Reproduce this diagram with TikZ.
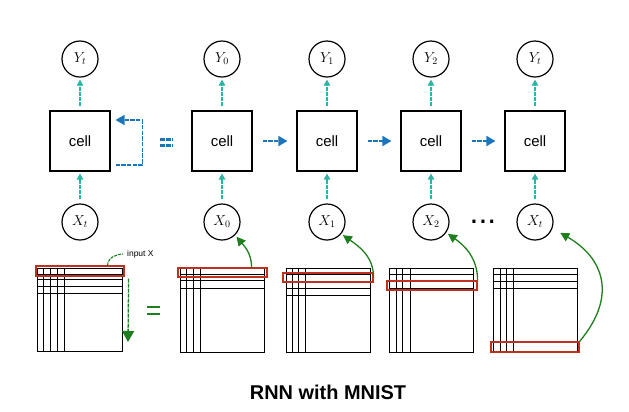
\documentclass[tikz,border=0pt]{standalone}
\usepackage{fontspec}
\newfontfamily\hel{Liberation Sans}
\usetikzlibrary{arrows.meta}
\definecolor{teal1}{HTML}{2AB5A5}
\definecolor{blue1}{HTML}{1B75BB}
\definecolor{green1}{HTML}{1D7F1D}
\definecolor{red1}{HTML}{C0301E}
\begin{document}
\begin{tikzpicture}[x=1bp,y=-1bp,
 cellbox/.style={draw,line width=1.1bp,minimum size=60bp,inner sep=0pt,font=\hel\fontsize{15}{15}\selectfont},
 io/.style={draw,circle,line width=1.2bp,minimum size=36bp,inner sep=0pt,font=\fontsize{14.4}{14.4}\selectfont},
 tarrow/.style={draw=teal1,line width=1.3bp,dash pattern=on 4bp off 1bp,-{Triangle[length=6bp,width=6.5bp,fill=teal1]},shorten <=4bp,shorten >=2bp},
 barrow/.style={blue1,line width=1.6bp,dash pattern=on 4.5bp off 1.2bp,-{Triangle[length=9bp,width=10bp]}},
 garrow/.style={green1,line width=1.3bp,-{Triangle[length=9bp,width=9bp]}},
 eqline/.style={draw=blue1,line width=2.2bp,dash pattern=on 5bp off 1.2bp},
 gridbox/.style={draw,line width=0.8bp,inner sep=0pt},
 gridline/.style={line width=0.7bp},
 redbox/.style={draw=red1,line width=1.2bp,inner sep=0pt},
]
\useasboundingbox (0,0) rectangle (629,411);

% cells and io nodes
\foreach \i/\x/\ys/\xs in {0/80/t/t,1/222/0/0,2/327/1/1,3/431/2/2,4/535/t/t}{
  \node[cellbox] (c\i) at (\x,141) {cell};
  \node[io] (y\i) at (\x,59) {$Y_{\ys}$};
  \node[io] (x\i) at (\x,222) {$X_{\xs}$};
  \draw[tarrow] (x\i) -- (c\i);
  \draw[tarrow] (c\i) -- (y\i);
}
% recurrent links
\foreach \a/\b in {1/2,2/3,3/4}{
  \draw[barrow,shorten <=10bp,shorten >=9bp] (c\a) -- (c\b);
}
\draw[barrow] ([shift={(5,24)}]c0.east) -- ++(27,0) -- ++(0,-45) -- ([shift={(5,-21)}]c0.east);
% blue equals
\draw[eqline] (160,139.5) -- (173,139.5);
\draw[eqline] (160,145.5) -- (173,145.5);

% dots
\node[font=\hel\fontsize{32}{32}\selectfont,inner sep=0pt] (dots) at (483,222) {...};

% grids
\node[gridbox,minimum width=85bp,minimum height=83bp] (g0) at (79.5,309.5) {};
\node[gridbox,minimum width=84bp,minimum height=84bp] (g1) at (222,310) {};
\node[gridbox,minimum width=84bp,minimum height=84bp] (g2) at (328,310) {};
\node[gridbox,minimum width=84bp,minimum height=84bp] (g3) at (431,310) {};
\node[gridbox,minimum width=84bp,minimum height=84bp] (g4) at (535,310) {};
\foreach \g/\vl/\hl in {g0/{7,14,21,28}/{7,12,19,26},g1/{7,14,21}/{7,13,21},g2/{7,13,20}/{7,14,21,28},g3/{8,14,22}/{7,14,21},g4/{8,14,21}/{7,14,21}}{
  \foreach \d in \vl {\draw[gridline] ([xshift=\d bp]\g.north west) -- ([xshift=\d bp]\g.south west);}
  \foreach \d in \hl {\draw[gridline] ([yshift=-\d bp]\g.north west) -- ([yshift=-\d bp]\g.north east);}
}
% red rows
\node[redbox,minimum width=88bp,minimum height=10bp] (r0) at (80,271) {};
\node[redbox,minimum width=89bp,minimum height=9bp] (r1) at (222.5,272.5) {};
\node[redbox,minimum width=90bp,minimum height=9bp] (r2) at (328,277.5) {};
\node[redbox,minimum width=90bp,minimum height=9bp] (r3) at (432,285.5) {};
\node[redbox,minimum width=88bp,minimum height=10bp] (r4) at (535,347) {};

% input X label
\node[font=\hel\fontsize{8.5}{8.5}\selectfont,inner sep=1pt,anchor=west] (lab) at (126,254) {input X};
\draw[green1,line width=1.1bp,dash pattern=on 3bp off 1bp,shorten >=3bp] ([xshift=-17bp]r0.north east) to[out=90,in=180] (lab.west);
\coordinate (dend) at (128,342);
\draw[garrow,dash pattern=on 4bp off 1bp,-{Triangle[length=11bp,width=12bp]}] ([shift={(4,2)}]r0.south east) -- (dend);
% green equals
\draw[green1,line width=1.5bp] (147,307) -- (160,307);
\draw[green1,line width=1.5bp] (147,314) -- (160,314);

% rows to inputs
\draw[garrow,shorten >=2bp] ([xshift=-16bp]r1.north east) to[out=90,in=-50] (x1.-45);
\draw[garrow,shorten >=2bp] (r2.east) to[out=90,in=-35] (x2.-40);
\draw[garrow,shorten >=2bp] (r3.north east) to[out=90,in=-35] (x3.-35);
\draw[garrow,shorten >=9bp] (r4.north east) to[out=50,in=-30,looseness=1.3] (x4.-20);

% title
\node[font=\hel\bfseries\fontsize{20}{20}\selectfont] (title) at (328,392) {RNN with MNIST};
\end{tikzpicture}
\end{document}
